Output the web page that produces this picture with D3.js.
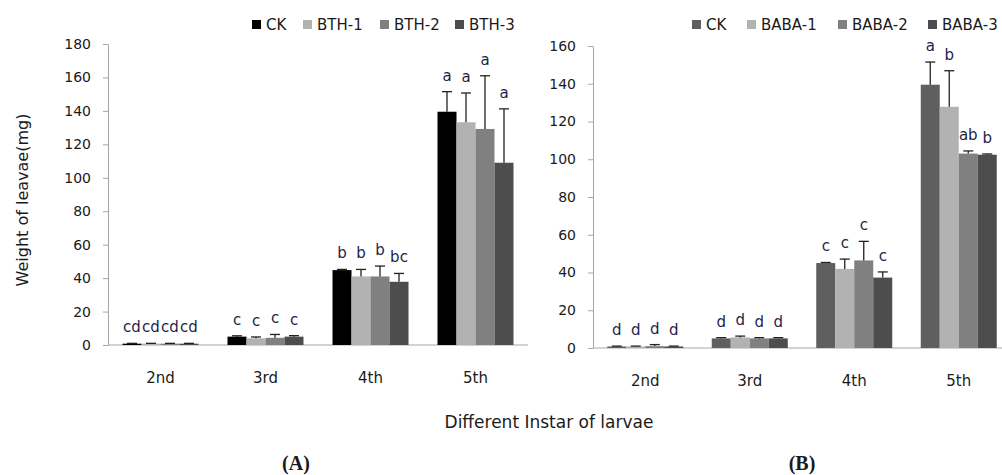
<!DOCTYPE html>
<html>
<head>
<meta charset="utf-8">
<script src="https://cdn.jsdelivr.net/npm/d3@7"></script>
<style>
  body { margin: 0; background: #fff; }
  svg text { font-family: "DejaVu Sans", Verdana, sans-serif; fill: #1a1a1a; }
  .lab { fill: #1f1f4a; }
</style>
</head>
<body>
<svg id="chart" width="1002" height="475"></svg>
<script>
// ---- data ----
const instars = ['2nd', '3rd', '4th', '5th'];

const seriesA = ['CK', 'BTH-1', 'BTH-2', 'BTH-3'];
const meanA = [
  [0.8, 0.8, 0.8, 0.8],
  [5.0, 4.0, 4.3, 5.0],
  [44.8, 41.0, 41.0, 37.8],
  [139.5, 133.2, 129.2, 109.0]
];
const errA = [
  [0.2, 0.2, 0.2, 0.2],
  [0.5, 0.8, 2.0, 0.6],
  [0.4, 4.2, 6.2, 5.0],
  [12.0, 17.5, 31.8, 32.2]
];
const letA = [
  ['cd', 'cd', 'cd', 'cd'],
  ['c', 'c', 'c', 'c'],
  ['b', 'b', 'b', 'bc'],
  ['a', 'a', 'a', 'a']
];

const seriesB = ['CK', 'BABA-1', 'BABA-2', 'BABA-3'];
const meanB = [
  [0.8, 0.8, 1.0, 0.8],
  [5.1, 5.6, 5.1, 5.1],
  [45.0, 41.9, 46.4, 37.3],
  [139.5, 127.8, 103.0, 102.4]
];
const errB = [
  [0.2, 0.2, 0.8, 0.2],
  [0.4, 0.7, 0.4, 0.4],
  [0.3, 5.2, 10.1, 3.0],
  [12.0, 19.1, 1.4, 0.4]
];
const letB = [
  ['d', 'd', 'd', 'd'],
  ['d', 'd', 'd', 'd'],
  ['c', 'c', 'c', 'c'],
  ['a', 'b', 'ab', 'b']
];

const ticksA = [0, 20, 40, 60, 80, 100, 120, 140, 160, 180];
const ticksB = [0, 20, 40, 60, 80, 100, 120, 140, 160];

const svg = d3.select('#chart');

// draw one panel
function panel({ series, mean, err, lets, ticks, colors, x0, x1, yTop, yBot, yMax, legendXs }) {
  const g = svg.append('g');
  const x = d3.scaleBand().domain(instars).range([x0, x1]);
  const y = d3.scaleLinear().domain([0, yMax]).range([yBot, yTop]);
  const bw = 19;
  const sub = d3.scaleBand().domain(series).range([-bw * 2, bw * 2]);

  // y axis
  const ya = g.append('g').attr('transform', `translate(${x0},0)`)
    .call(d3.axisLeft(y).tickValues(ticks).tickSize(5).tickSizeOuter(0).tickPadding(12));
  ya.select('.domain').attr('stroke', '#a6a6a6');
  ya.selectAll('.tick line').attr('stroke', '#a6a6a6');
  ya.selectAll('.tick text').attr('font-size', 14).attr('fill', '#1a1a1a')
    .style('font-family', '"DejaVu Sans", Verdana, sans-serif');

  // x axis line
  g.append('line').attr('x1', x0).attr('x2', x1).attr('y1', y(0)).attr('y2', y(0))
    .attr('stroke', '#a6a6a6');

  instars.forEach((c, i) => {
    const cx = x(c) + x.bandwidth() / 2;
    g.append('text').attr('x', cx).attr('y', yBot + 38).attr('text-anchor', 'middle')
      .attr('font-size', 15).text(c);

    series.forEach((s, j) => {
      const bx = cx + sub(s);
      const v = mean[i][j], e = err[i][j];
      g.append('rect').attr('x', bx).attr('width', bw)
        .attr('y', y(v)).attr('height', y(0) - y(v)).attr('fill', colors[j]);
      // error bar
      const mx = bx + bw / 2;
      g.append('line').attr('x1', mx).attr('x2', mx).attr('y1', y(v)).attr('y2', y(v + e))
        .attr('stroke', '#222').attr('stroke-width', 1.3);
      g.append('line').attr('x1', mx - 5).attr('x2', mx + 5).attr('y1', y(v + e)).attr('y2', y(v + e))
        .attr('stroke', '#222').attr('stroke-width', 1.3);
      g.append('text').attr('class', 'lab').attr('x', mx).attr('y', y(v + e) - 11)
        .attr('text-anchor', 'middle').attr('font-size', 15).text(lets[i][j]);
    });
  });

  // legend
  series.forEach((s, j) => {
    const lx = legendXs[j];
    g.append('rect').attr('x', lx).attr('y', 20).attr('width', 9).attr('height', 9).attr('fill', colors[j]);
    g.append('text').attr('x', lx + 14).attr('y', 30).attr('font-size', 15).text(s);
  });
}

panel({
  series: seriesA, mean: meanA, err: errA, lets: letA, ticks: ticksA,
  colors: ['#000000', '#b2b2b2', '#808080', '#4d4d4d'],
  x0: 108, x1: 528, yTop: 44, yBot: 345, yMax: 180, legendXs: [252, 303, 380, 455]
});

panel({
  series: seriesB, mean: meanB, err: errB, lets: letB, ticks: ticksB,
  colors: ['#5f5f5f', '#b2b2b2', '#808080', '#4d4d4d'],
  x0: 593, x1: 1011, yTop: 46, yBot: 348, yMax: 160, legendXs: [692, 747, 838, 928]
});

// shared titles
svg.append('text').attr('transform', 'translate(28,200) rotate(-90)')
  .attr('text-anchor', 'middle').attr('font-size', 16).text('Weight of leavae(mg)');
svg.append('text').attr('x', 549).attr('y', 428).attr('text-anchor', 'middle')
  .attr('font-size', 17).text('Different Instar of larvae');

svg.append('text').attr('x', 296).attr('y', 470).attr('text-anchor', 'middle')
  .style('font-family', '"Liberation Serif", "Times New Roman", serif')
  .attr('font-weight', 'bold').attr('font-size', 20).text('(A)');
svg.append('text').attr('x', 802).attr('y', 470).attr('text-anchor', 'middle')
  .style('font-family', '"Liberation Serif", "Times New Roman", serif')
  .attr('font-weight', 'bold').attr('font-size', 20).text('(B)');
</script>
</body>
</html>
